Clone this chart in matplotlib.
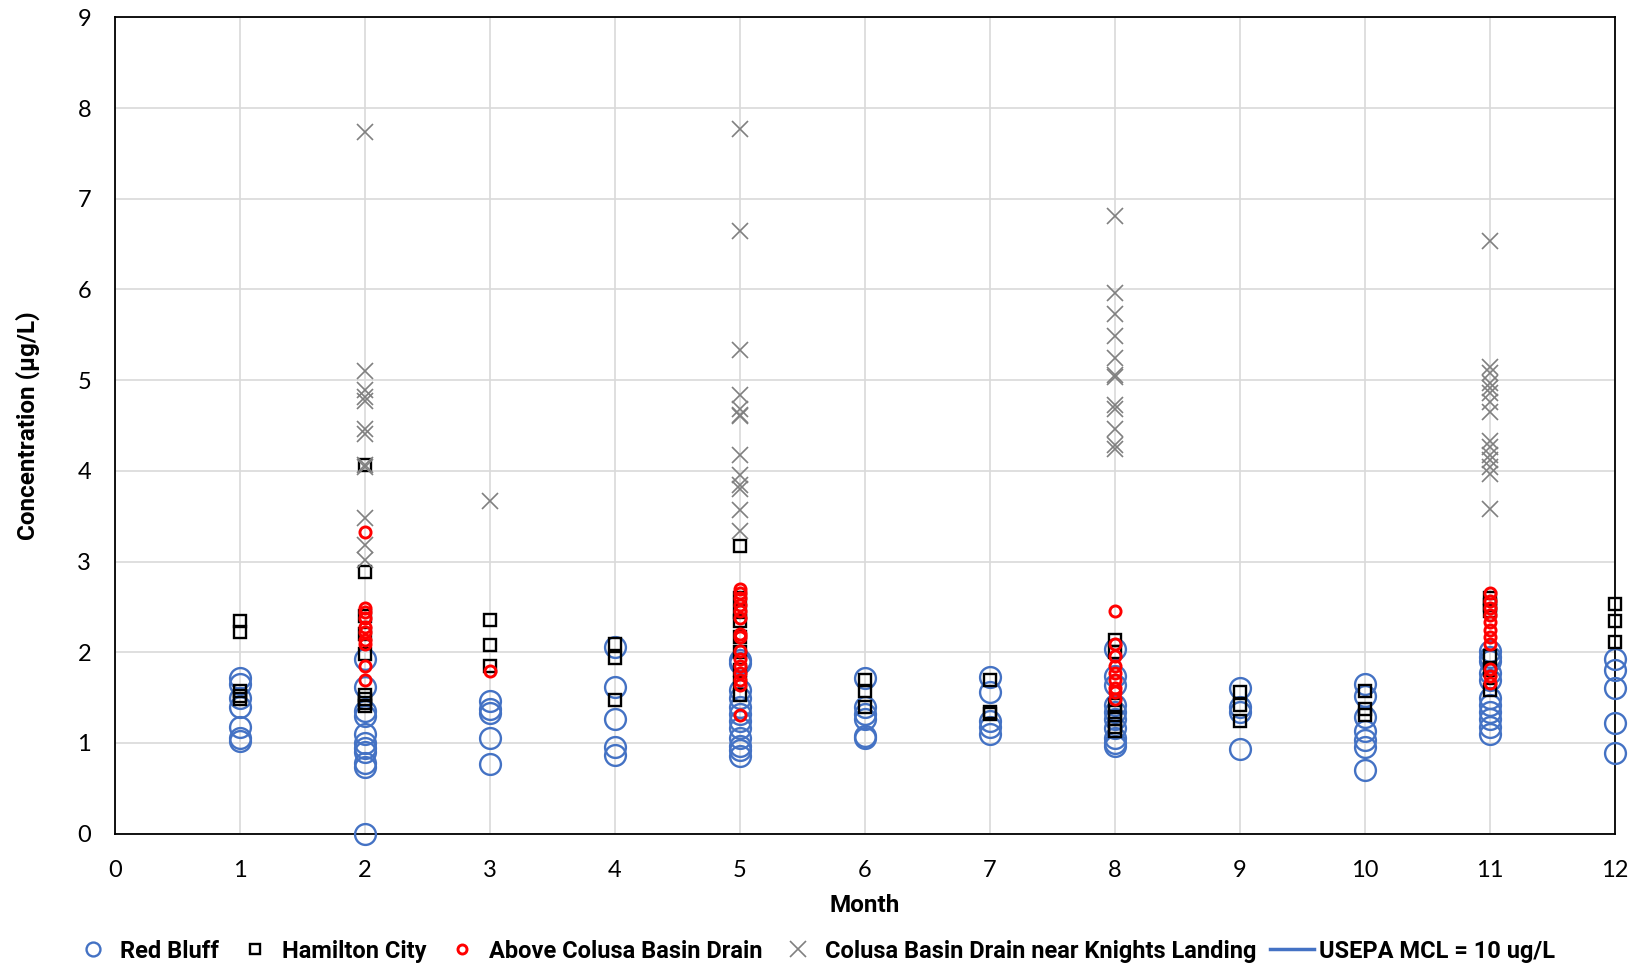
import matplotlib
matplotlib.use("Agg")
import matplotlib.pyplot as plt
import numpy as np

# values per month (index 0 -> month 1)
months = list(range(1, 13))

red_bluff = [
    [1.72, 1.65, 1.50, 1.40, 1.18, 1.05, 1.02],
    [1.93, 1.62, 1.35, 1.30, 1.10, 1.00, 0.94, 0.90, 0.78, 0.73, 0.00],
    [1.46, 1.37, 1.33, 1.06, 0.77],
    [2.06, 1.62, 1.26, 0.95, 0.87],
    [1.92, 1.88, 1.58, 1.50, 1.40, 1.32, 1.24, 1.16, 1.05, 0.97, 0.92, 0.86],
    [1.72, 1.40, 1.32, 1.26, 1.08, 1.05],
    [1.73, 1.56, 1.24, 1.18, 1.10],
    [2.04, 1.74, 1.64, 1.42, 1.34, 1.26, 1.16, 1.05, 1.00, 0.97],
    [1.61, 1.40, 1.34, 0.93],
    [1.65, 1.52, 1.29, 1.13, 1.03, 0.95, 0.70],
    [2.01, 1.95, 1.90, 1.77, 1.69, 1.50, 1.42, 1.34, 1.26, 1.18, 1.10],
    [1.93, 1.80, 1.61, 1.22, 0.89],
]

hamilton_city = [
    [2.35, 2.22, 1.57, 1.52, 1.48],
    [4.06, 2.88, 2.40, 2.20, 1.98, 1.53, 1.48, 1.44, 1.41],
    [2.36, 2.08, 1.85],
    [2.09, 1.94, 1.47],
    [3.17, 2.60, 2.44, 2.35, 2.17, 2.00, 1.80, 1.66, 1.53],
    [1.69, 1.57, 1.40],
    [1.69, 1.34, 1.32],
    [2.14, 2.00, 1.42, 1.34, 1.26, 1.18, 1.13],
    [1.56, 1.42, 1.24],
    [1.57, 1.37, 1.31],
    [2.60, 2.52, 2.45, 1.96, 1.80, 1.58],
    [2.53, 2.34, 2.11],
]

above_colusa = [
    [],
    [3.33, 2.49, 2.44, 2.38, 2.28, 2.22, 2.14, 2.09, 1.85, 1.69],
    [1.79],
    [],
    [2.70, 2.65, 2.60, 2.52, 2.46, 2.38, 2.20, 2.17, 2.01, 1.93, 1.85, 1.77, 1.69, 1.64, 1.31],
    [],
    [],
    [2.46, 2.09, 1.96, 1.85, 1.77, 1.69, 1.61, 1.56, 1.48],
    [],
    [],
    [2.65, 2.57, 2.49, 2.41, 2.33, 2.25, 2.17, 2.09, 1.82, 1.74, 1.66],
    [],
]

knights_landing = [
    [],
    [7.74, 5.10, 4.89, 4.81, 4.77, 4.46, 4.41, 4.06, 4.04, 3.48, 3.18, 3.02],
    [3.67],
    [],
    [7.77, 6.64, 5.33, 4.84, 4.68, 4.62, 4.60, 4.17, 3.95, 3.84, 3.80, 3.57, 3.34],
    [],
    [],
    [6.81, 5.96, 5.73, 5.49, 5.24, 5.06, 5.04, 4.73, 4.68, 4.46, 4.28, 4.24],
    [],
    [],
    [6.54, 5.14, 5.08, 4.97, 4.91, 4.86, 4.76, 4.65, 4.33, 4.26, 4.18, 4.12, 4.04, 3.96, 3.58],
    [],
]

usepa_mcl = 10
series_labels = ["Red Bluff", "Hamilton City", "Above Colusa Basin Drain",
                 "Colusa Basin Drain near Knights Landing", "USEPA MCL = 10 ug/L"]


def flatten(per_month):
    xs, ys = [], []
    for m, vals in zip(months, per_month):
        xs += [m] * len(vals)
        ys += vals
    return xs, ys


# Lato ~ Calibri for the plain text, Roboto for the bold bits
plt.rcParams['font.family'] = ['Lato', 'DejaVu Sans']
bold_font = {'family': ['Roboto', 'DejaVu Sans'], 'weight': 'bold'}

fig = plt.figure(figsize=(16.41, 9.66), dpi=100)
ax = fig.add_axes([0.070, 0.137, 0.914, 0.845])

x, y = flatten(red_bluff)
ax.plot(x, y, ls='none', marker='o', ms=15, mfc='none', mec='#4472C4', mew=1.7,
        label=series_labels[0], clip_on=False, zorder=3)
x, y = flatten(hamilton_city)
ax.plot(x, y, ls='none', marker='s', ms=8.5, mfc='none', mec='black', mew=1.7,
        label=series_labels[1], clip_on=False, zorder=4)
x, y = flatten(above_colusa)
ax.plot(x, y, ls='none', marker='o', ms=8, mfc='none', mec='#FF0000', mew=2.1,
        label=series_labels[2], clip_on=False, zorder=5)
x, y = flatten(knights_landing)
ax.plot(x, y, ls='none', marker='x', ms=12, mec='#808080', mew=1.2,
        label=series_labels[3], clip_on=False, zorder=6)
ax.plot([0, 12], [usepa_mcl, usepa_mcl], color='#4472C4', lw=2.5,
        label=series_labels[4])

ax.set_xlim(0, 12)
ax.set_ylim(0, 9)
ax.set_xticks(range(0, 13))
ax.set_yticks(range(0, 10))
ax.grid(True, color='#d9d9d9', lw=1.2)
ax.set_axisbelow(True)
for s in ax.spines.values():
    s.set_color('black')
    s.set_linewidth(1.3)
ax.tick_params(length=0, labelsize=17)
ax.tick_params(axis='x', pad=19)
ax.tick_params(axis='y', pad=17)

ax.set_xlabel("Month", fontsize=17.5, fontdict=bold_font, labelpad=9)
ax.set_ylabel("Concentration (µg/L)", fontsize=17.5, fontdict=bold_font, labelpad=27)

leg = fig.legend(loc='center', bbox_to_anchor=(0.4955, 0.0155), ncol=5, frameon=False,
                 prop={'family': ['Roboto', 'DejaVu Sans'], 'size': 17, 'weight': 'bold'},
                 handlelength=1.85, handletextpad=0.2, columnspacing=0.6)
# legend markers are drawn smaller than the plotted ones
for h, ms in zip(leg.legend_handles[:4], [10, 7, 6.5, 11]):
    h.set_markersize(ms)

fig.savefig("out.png", dpi=100)
